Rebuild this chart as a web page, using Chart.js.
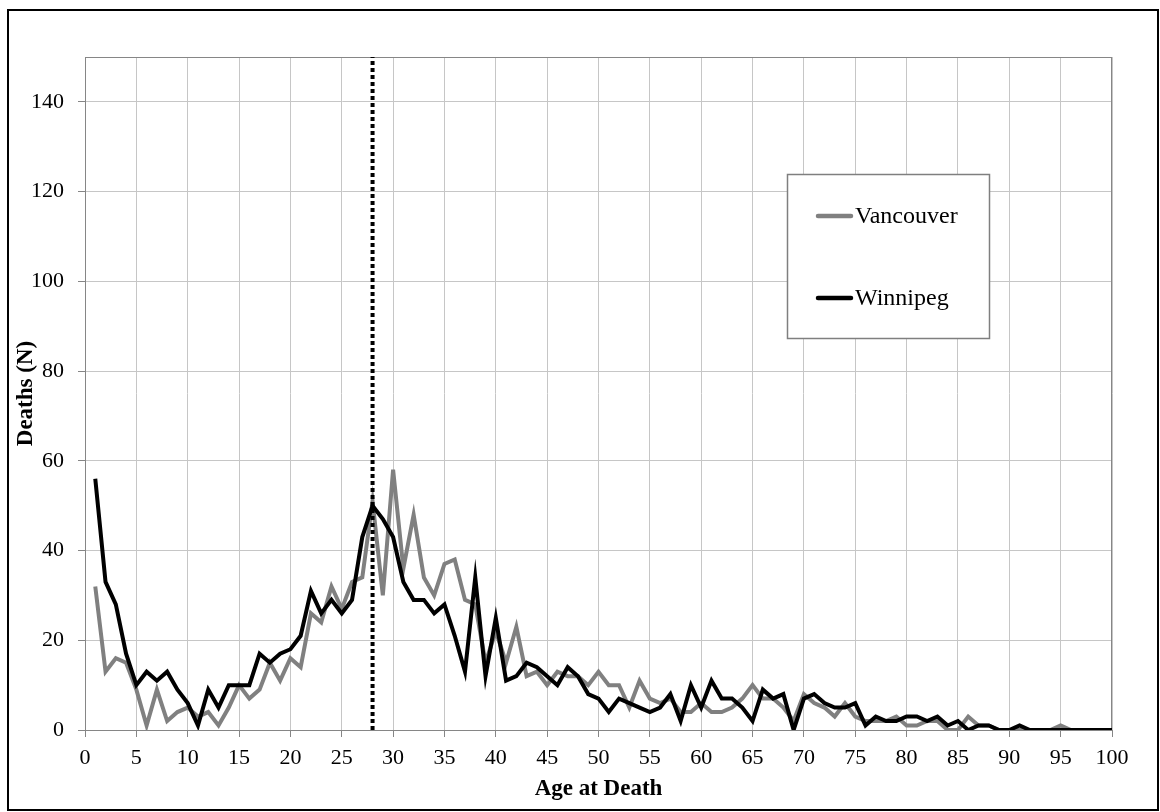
<!DOCTYPE html>
<html>
<head>
<meta charset="utf-8">
<title>Deaths by Age at Death</title>
<script src="https://cdn.jsdelivr.net/npm/chart.js@4.4.1/dist/chart.umd.min.js"></script>
<style>
  html, body { margin: 0; padding: 0; background: #ffffff; }
  #wrap { position: relative; width: 1160px; height: 812px; }
  canvas { display: block; }
</style>
</head>
<body>
<div id="wrap"><canvas id="chart" width="1160" height="812"></canvas></div>
<script>
// Age at death, 1 to 100 years
const ages = [
  1, 2, 3, 4, 5, 6, 7, 8, 9, 10,
  11, 12, 13, 14, 15, 16, 17, 18, 19, 20,
  21, 22, 23, 24, 25, 26, 27, 28, 29, 30,
  31, 32, 33, 34, 35, 36, 37, 38, 39, 40,
  41, 42, 43, 44, 45, 46, 47, 48, 49, 50,
  51, 52, 53, 54, 55, 56, 57, 58, 59, 60,
  61, 62, 63, 64, 65, 66, 67, 68, 69, 70,
  71, 72, 73, 74, 75, 76, 77, 78, 79, 80,
  81, 82, 83, 84, 85, 86, 87, 88, 89, 90,
  91, 92, 93, 94, 95, 96, 97, 98, 99, 100
];

// Number of deaths at each age
const vancouver = [
  32, 13, 16, 15, 9, 1, 9, 2, 4, 5,
  3, 4, 1, 5, 10, 7, 9, 15, 11, 16,
  14, 26, 24, 32, 27, 33, 34, 51, 30, 58,
  36, 48, 34, 30, 37, 38, 29, 28, 15, 22,
  15, 23, 12, 13, 10, 13, 12, 12, 10, 13,
  10, 10, 5, 11, 7, 6, 7, 4, 4, 6,
  4, 4, 5, 7, 10, 7, 7, 5, 2, 8,
  6, 5, 3, 6, 3, 2, 2, 2, 3, 1,
  1, 2, 2, 0, 0, 3, 1, 1, 0, 0,
  0, 0, 0, 0, 1, 0, 0, 0, 0, 0
];

const winnipeg = [
  56, 33, 28, 17, 10, 13, 11, 13, 9, 6,
  1, 9, 5, 10, 10, 10, 17, 15, 17, 18,
  21, 31, 26, 29, 26, 29, 43, 50, 47, 43,
  33, 29, 29, 26, 28, 21, 13, 34, 12, 25,
  11, 12, 15, 14, 12, 10, 14, 12, 8, 7,
  4, 7, 6, 5, 4, 5, 8, 2, 10, 5,
  11, 7, 7, 5, 2, 9, 7, 8, 0, 7,
  8, 6, 5, 5, 6, 1, 3, 2, 2, 3,
  3, 2, 3, 1, 2, 0, 1, 1, 0, 0,
  1, 0, 0, 0, 0, 0, 0, 0, 0, 0
];

// Reference age marked with a dotted vertical line
const markerAge = 28;

// Axis tick values
const xTicks = [0, 5, 10, 15, 20, 25, 30, 35, 40, 45, 50, 55, 60, 65, 70, 75, 80, 85, 90, 95, 100];
const yTicks = [0, 20, 40, 60, 80, 100, 120, 140];
const yMax = 150;

const FONT = '"Liberation Serif", "Times New Roman", Times, serif';

const toPoints = (vals) => ages.map((a, i) => ({ x: a, y: vals[i] }));

// Grey frame around the plotting area, under the data
const plotFrame = {
  id: 'plotFrame',
  beforeDatasetsDraw(chart) {
    const { ctx, chartArea: a } = chart;
    ctx.save();
    ctx.strokeStyle = '#868686';
    ctx.lineWidth = 1;
    ctx.strokeRect(Math.round(a.left) + 0.5, Math.round(a.top) + 0.5,
      Math.round(a.right - a.left) - 1, Math.round(a.bottom - a.top));
    ctx.restore();
  }
};

// Boxed legend inside the plot, upper right
const boxLegend = {
  id: 'boxLegend',
  afterDraw(chart) {
    const { ctx } = chart;
    const items = chart.data.datasets
      .filter(d => d.legendRow !== undefined)
      .sort((p, q) => p.legendRow - q.legendRow);
    const bx = 787, by = 174, bw = 202, bh = 164;
    ctx.save();
    ctx.fillStyle = '#ffffff';
    ctx.fillRect(bx, by, bw, bh);
    ctx.strokeStyle = '#7f7f7f';
    ctx.lineWidth = 1.5;
    ctx.strokeRect(bx + 0.5, by + 0.5, bw, bh);
    const rows = [216, 298];
    ctx.font = '24px ' + FONT;
    ctx.textBaseline = 'middle';
    ctx.textAlign = 'left';
    items.forEach((d, i) => {
      const y = rows[i];
      ctx.strokeStyle = d.borderColor;
      ctx.lineWidth = 4.5;
      ctx.lineCap = 'round';
      ctx.beginPath();
      ctx.moveTo(818, y);
      ctx.lineTo(851, y);
      ctx.stroke();
      ctx.fillStyle = '#000000';
      ctx.fillText(d.label, 855, y + 1);
    });
    ctx.restore();
  }
};

// Outer chart frame
const outerFrame = {
  id: 'outerFrame',
  afterDraw(chart) {
    const { ctx } = chart;
    ctx.save();
    ctx.strokeStyle = '#000000';
    ctx.lineWidth = 2;
    ctx.strokeRect(8, 10, 1150, 800);
    ctx.restore();
  }
};

new Chart(document.getElementById('chart'), {
  type: 'line',
  data: {
    datasets: [
      {
        label: 'Winnipeg',
        legendRow: 1,
        data: toPoints(winnipeg),
        borderColor: '#000000',
        borderWidth: 4,
        pointRadius: 0,
        tension: 0,
        order: 0
      },
      {
        label: 'Age ' + markerAge,
        data: [{ x: markerAge, y: 0 }, { x: markerAge, y: yMax }],
        borderColor: '#000000',
        borderWidth: 4,
        borderDash: [4, 3],
        borderCapStyle: 'butt',
        pointRadius: 0,
        order: 1
      },
      {
        label: 'Vancouver',
        legendRow: 0,
        data: toPoints(vancouver),
        borderColor: '#808080',
        borderWidth: 4,
        pointRadius: 0,
        tension: 0,
        order: 2
      }
    ]
  },
  options: {
    responsive: false,
    animation: false,
    devicePixelRatio: 1,
    layout: { padding: { left: 0, top: 57, right: 48, bottom: 0 } },
    plugins: {
      legend: { display: false },
      tooltip: { enabled: false }
    },
    scales: {
      x: {
        type: 'linear',
        min: 0,
        max: 100,
        afterBuildTicks: (s) => { s.ticks = xTicks.map(v => ({ value: v })); },
        afterFit: (s) => { s.height = 82; },
        ticks: {
          autoSkip: false,
          maxRotation: 0,
          padding: 8,
          color: '#000000',
          font: { family: FONT, size: 22 }
        },
        grid: {
          color: '#c6c6c6',
          lineWidth: 1,
          tickLength: 7,
          tickColor: '#868686'
        },
        border: { color: '#868686', width: 1 },
        title: {
          display: true,
          text: 'Age at Death',
          color: '#000000',
          font: { family: FONT, size: 23, weight: 'bold' },
          padding: { top: 0, bottom: 9 }
        }
      },
      y: {
        type: 'linear',
        min: 0,
        max: yMax,
        afterBuildTicks: (s) => { s.ticks = yTicks.map(v => ({ value: v })); },
        afterFit: (s) => { s.width = 85; },
        ticks: {
          padding: 14,
          color: '#000000',
          font: { family: FONT, size: 22 }
        },
        grid: {
          color: '#c6c6c6',
          lineWidth: 1,
          tickLength: 7,
          tickColor: '#868686'
        },
        border: { color: '#868686', width: 1 },
        title: {
          display: true,
          text: 'Deaths (N)',
          color: '#000000',
          font: { family: FONT, size: 23, weight: 'bold' },
          padding: { top: 12, bottom: 0 }
        }
      }
    }
  },
  plugins: [plotFrame, boxLegend, outerFrame]
});
</script>
</body>
</html>
